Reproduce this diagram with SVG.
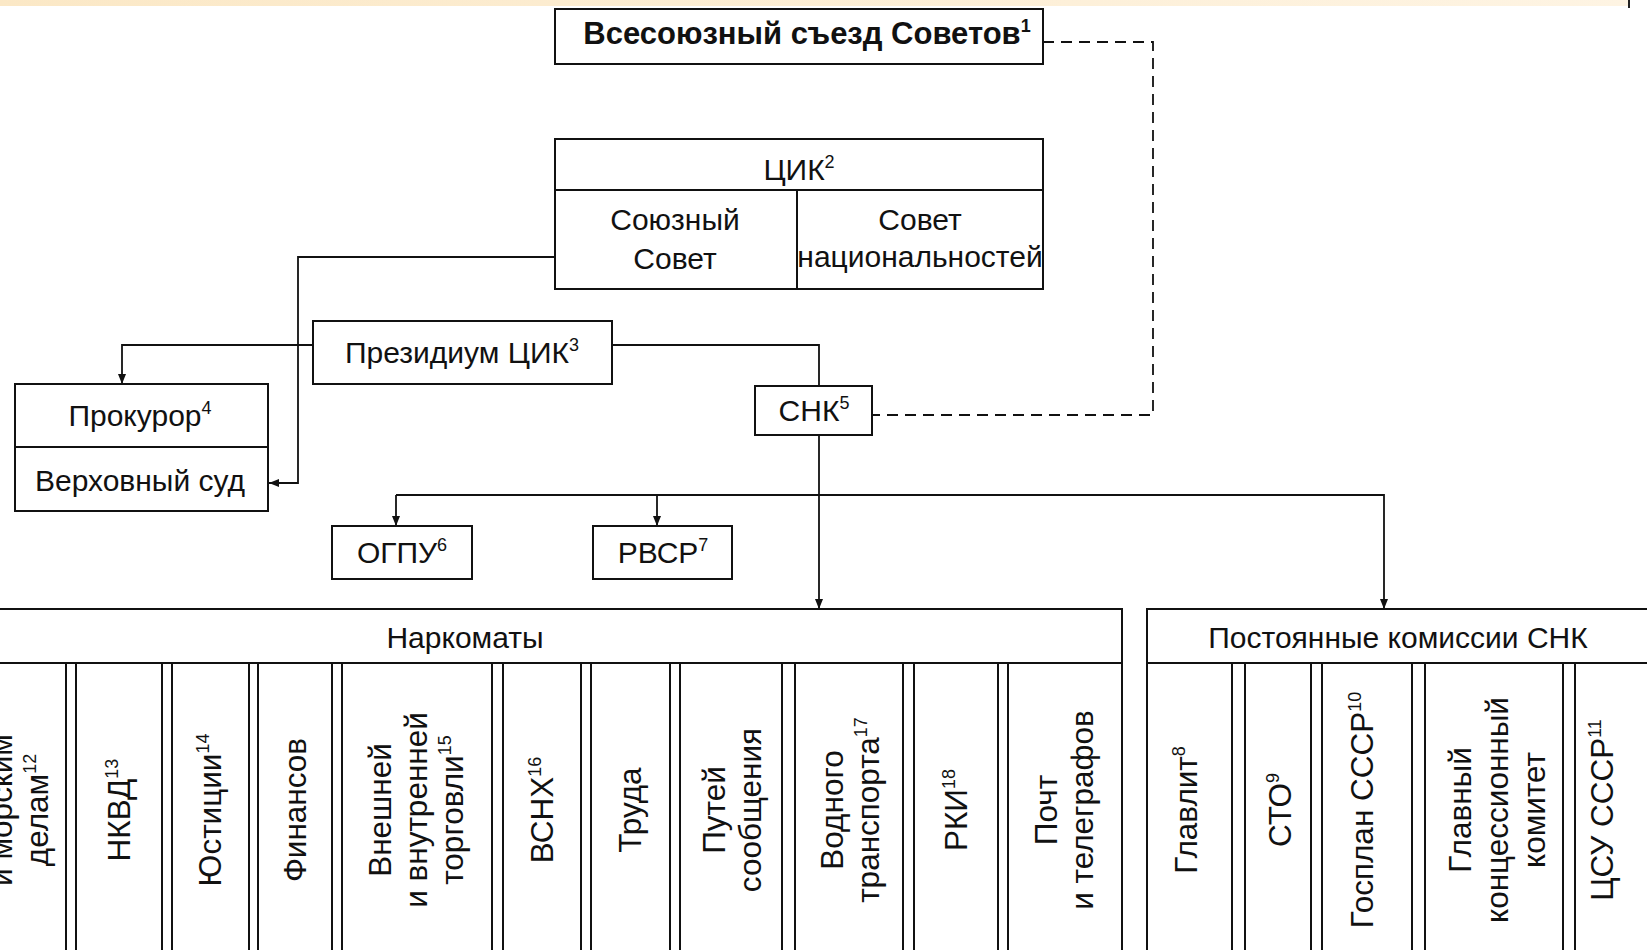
<svg xmlns="http://www.w3.org/2000/svg" width="1647" height="950" viewBox="0 0 1647 950">
<defs>
<linearGradient id="band" x1="0" y1="0" x2="1" y2="0">
<stop offset="0" stop-color="#FBE8C6"/>
<stop offset="1" stop-color="#FEF4E3"/>
</linearGradient>
<marker id="arr" viewBox="0 0 10 8" refX="10" refY="4" markerWidth="10" markerHeight="8" markerUnits="userSpaceOnUse" orient="auto">
<path d="M0,0 L10,4 L0,8 z" fill="#111"/>
</marker>
</defs>
<style>
.box{fill:#fff;stroke:#111;stroke-width:2}
.ln{fill:none;stroke:#111;stroke-width:2}
.con{fill:none;stroke:#111;stroke-width:1.8}
.dash{fill:none;stroke:#111;stroke-width:1.8;stroke-dasharray:11 7}
.t{font-family:"Liberation Sans",Arial,sans-serif;font-size:30px;fill:#111;text-anchor:middle}
.v{font-size:31.5px}
.b{font-weight:bold;font-size:31px}
.s{font-size:18px}
</style>
<rect x="0" y="0" width="1628" height="6" fill="url(#band)"/>
<rect x="1628" y="0" width="2" height="8" fill="#222"/>

<g id="connectors">
<path class="dash" d="M1043,42 H1153 V415 H872"/>
<path class="con" d="M555,257 H298 V483 H269" marker-end="url(#arr)"/>
<path class="con" d="M313,345 H122 V384" marker-end="url(#arr)"/>
<path class="con" d="M612,345 H819 V386"/>
<path class="con" d="M819,435 V609" marker-end="url(#arr)"/>
<path class="con" d="M396,495 H1384 V609" marker-end="url(#arr)"/>
<path class="con" d="M396,495 V526" marker-end="url(#arr)"/>
<path class="con" d="M657,495 V526" marker-end="url(#arr)"/>
</g>

<g id="congress">
<rect class="box" x="555" y="9" width="488" height="55"/>
<text class="t b" x="807" y="44">Всесоюзный съезд Советов<tspan class="s" dy="-12">1</tspan></text>
</g>

<g id="cik">
<rect class="box" x="555" y="139" width="488" height="150"/>
<line class="ln" x1="555" y1="190" x2="1043" y2="190"/>
<line class="ln" x1="797" y1="190" x2="797" y2="289"/>
<text class="t" x="799" y="180">ЦИК<tspan class="s" dy="-12">2</tspan></text>
<text class="t" x="675" y="230">Союзный</text>
<text class="t" x="675" y="269">Совет</text>
<text class="t" x="920" y="230">Совет</text>
<text class="t" x="920" y="267">национальностей</text>
</g>

<g id="presidium">
<rect class="box" x="313" y="321" width="299" height="63"/>
<text class="t" x="462" y="363">Президиум ЦИК<tspan class="s" dy="-12">3</tspan></text>
</g>

<g id="prosecutor-court">
<rect class="box" x="15" y="384" width="253" height="127"/>
<line class="ln" x1="15" y1="447" x2="268" y2="447"/>
<text class="t" x="140" y="426">Прокурор<tspan class="s" dy="-12">4</tspan></text>
<text class="t" x="140" y="491">Верховный суд</text>
</g>

<g id="snk">
<rect class="box" x="755" y="386" width="117" height="49"/>
<text class="t" x="814" y="421">СНК<tspan class="s" dy="-12">5</tspan></text>
</g>

<g id="ogpu">
<rect class="box" x="332" y="526" width="140" height="53"/>
<text class="t" x="402" y="563">ОГПУ<tspan class="s" dy="-12">6</tspan></text>
</g>

<g id="rvsr">
<rect class="box" x="593" y="526" width="139" height="53"/>
<text class="t" x="663" y="563">РВСР<tspan class="s" dy="-12">7</tspan></text>
</g>

<g id="narkomaty">
<rect class="box" x="-200" y="609" width="1322" height="400"/>
<line class="ln" x1="-200" y1="663" x2="1122" y2="663"/>
<text class="t" x="465" y="648">Наркоматы</text>
<path class="ln" d="M66,663V960 M76,663V960 M162,663V960 M172,663V960 M249,663V960 M258,663V960 M332,663V960 M342,663V960 M492,663V960 M503,663V960 M581,663V960 M591,663V960 M670,663V960 M680,663V960 M782,663V960 M795,663V960 M903,663V960 M914,663V960 M998,663V960 M1008,663V960"/>
<g transform="translate(19,810) rotate(-90)">
<text class="t v" x="0" y="-7">и морским</text>
<text class="t v" x="0" y="29">делам<tspan class="s" dy="-12">12</tspan></text>
</g>
<g transform="translate(119,810) rotate(-90)"><text class="t v" x="0" y="11">НКВД<tspan class="s" dy="-12">13</tspan></text></g>
<g transform="translate(210,810) rotate(-90)"><text class="t v" x="0" y="11">Юстиции<tspan class="s" dy="-12">14</tspan></text></g>
<g transform="translate(295,810) rotate(-90)"><text class="t v" x="0" y="11">Финансов</text></g>
<g transform="translate(416,810) rotate(-90)">
<text class="t v" x="0" y="-25">Внешней</text>
<text class="t v" x="0" y="11">и внутренней</text>
<text class="t v" x="0" y="47">торговли<tspan class="s" dy="-12">15</tspan></text>
</g>
<g transform="translate(542,810) rotate(-90)"><text class="t v" x="0" y="11">ВСНХ<tspan class="s" dy="-12">16</tspan></text></g>
<g transform="translate(630,810) rotate(-90)"><text class="t v" x="0" y="11">Труда</text></g>
<g transform="translate(732,810) rotate(-90)">
<text class="t v" x="0" y="-7">Путей</text>
<text class="t v" x="0" y="29">сообщения</text>
</g>
<g transform="translate(850,810) rotate(-90)">
<text class="t v" x="0" y="-7">Водного</text>
<text class="t v" x="0" y="29">транспорта<tspan class="s" dy="-12">17</tspan></text>
</g>
<g transform="translate(956,810) rotate(-90)"><text class="t v" x="0" y="11">РКИ<tspan class="s" dy="-12">18</tspan></text></g>
<g transform="translate(1064,810) rotate(-90)">
<text class="t v" x="0" y="-7">Почт</text>
<text class="t v" x="0" y="29">и телеграфов</text>
</g>
</g>

<g id="commissions">
<rect class="box" x="1147" y="609" width="560" height="400"/>
<line class="ln" x1="1147" y1="663" x2="1707" y2="663"/>
<text class="t" x="1398" y="648">Постоянные комиссии СНК</text>
<path class="ln" d="M1232,663V960 M1245,663V960 M1311,663V960 M1322,663V960 M1412,663V960 M1425,663V960 M1563,663V960 M1575,663V960"/>
<g transform="translate(1186,810) rotate(-90)"><text class="t v" x="0" y="11">Главлит<tspan class="s" dy="-12">8</tspan></text></g>
<g transform="translate(1280,810) rotate(-90)"><text class="t v" x="0" y="11">СТО<tspan class="s" dy="-12">9</tspan></text></g>
<g transform="translate(1362,810) rotate(-90)"><text class="t v" x="0" y="11">Госплан СССР<tspan class="s" dy="-12">10</tspan></text></g>
<g transform="translate(1497,810) rotate(-90)">
<text class="t v" x="0" y="-26">Главный</text>
<text class="t v" x="0" y="11">концессионный</text>
<text class="t v" x="0" y="48">комитет</text>
</g>
<g transform="translate(1602,810) rotate(-90)"><text class="t v" x="0" y="11">ЦСУ СССР<tspan class="s" dy="-12">11</tspan></text></g>
</g>
</svg>
